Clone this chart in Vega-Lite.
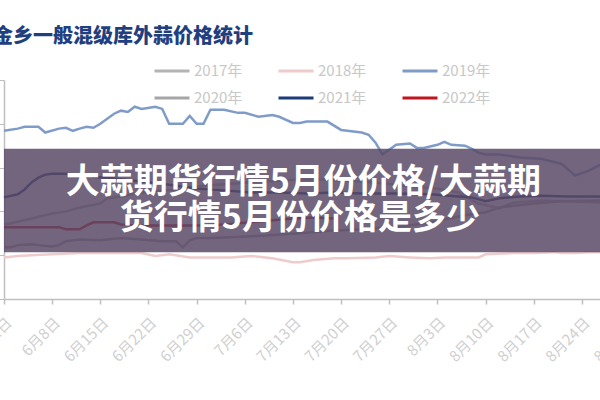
{
"$schema": "https://vega.github.io/schema/vega-lite/v6.json",
"width": 633, "height": 219,
"autosize": {"type": "none"},
"padding": {"left": 4, "top": 80, "right": 0, "bottom": 101},
"background": "white",
"title": {"text": "金乡一般混级库外蒜价格统计", "anchor": "start", "frame": "group", "dx": -11, "offset": 5, "fontSize": 20, "font": "Noto Sans CJK SC", "fontWeight": 900, "color": "#1f3f7f"},
"config": {"view": {"stroke": null}, "font": "Noto Sans CJK SC"},
"datasets": {
"prices": [
{"year":"2017年","date":"2022-06-01","price":1.70},{"year":"2017年","date":"2022-06-02","price":1.73},{"year":"2017年","date":"2022-06-05","price":1.84},{"year":"2017年","date":"2022-06-08","price":1.95},{"year":"2017年","date":"2022-06-10","price":2.00},{"year":"2017年","date":"2022-06-12","price":2.09},{"year":"2017年","date":"2022-06-15","price":2.18},{"year":"2017年","date":"2022-06-16","price":2.30},{"year":"2017年","date":"2022-06-18","price":2.34},{"year":"2017年","date":"2022-06-20","price":2.41},{"year":"2017年","date":"2022-06-22","price":2.45},{"year":"2017年","date":"2022-06-24","price":2.48},{"year":"2017年","date":"2022-06-26","price":2.50},{"year":"2017年","date":"2022-06-28","price":2.55},{"year":"2017年","date":"2022-06-29","price":2.57},{"year":"2017年","date":"2022-07-02","price":2.61},{"year":"2017年","date":"2022-07-05","price":2.64},{"year":"2017年","date":"2022-07-08","price":2.68},{"year":"2017年","date":"2022-07-11","price":2.70},{"year":"2017年","date":"2022-07-14","price":2.73},{"year":"2017年","date":"2022-07-17","price":2.73},{"year":"2017年","date":"2022-07-20","price":2.70},{"year":"2017年","date":"2022-07-23","price":2.68},{"year":"2017年","date":"2022-07-26","price":2.64},{"year":"2017年","date":"2022-07-29","price":2.59},{"year":"2017年","date":"2022-07-31","price":2.55},{"year":"2017年","date":"2022-08-03","price":2.52},{"year":"2017年","date":"2022-08-06","price":2.43},{"year":"2017年","date":"2022-08-09","price":2.18},{"year":"2017年","date":"2022-08-12","price":2.07},{"year":"2017年","date":"2022-08-14","price":2.20},{"year":"2017年","date":"2022-08-18","price":2.25},{"year":"2017年","date":"2022-08-22","price":2.23},{"year":"2017年","date":"2022-08-27","price":2.20},{"year":"2017年","date":"2022-08-29","price":2.20},
{"year":"2018年","date":"2022-06-01","price":0.95},{"year":"2018年","date":"2022-06-03","price":0.98},{"year":"2018年","date":"2022-06-05","price":1.00},{"year":"2018年","date":"2022-06-08","price":1.02},{"year":"2018年","date":"2022-06-12","price":1.05},{"year":"2018年","date":"2022-06-15","price":1.05},{"year":"2018年","date":"2022-06-21","price":1.05},{"year":"2018年","date":"2022-06-23","price":0.98},{"year":"2018年","date":"2022-06-25","price":1.02},{"year":"2018年","date":"2022-06-28","price":0.95},{"year":"2018年","date":"2022-07-01","price":0.95},{"year":"2018年","date":"2022-07-04","price":0.95},{"year":"2018年","date":"2022-07-07","price":0.98},{"year":"2018年","date":"2022-07-10","price":0.93},{"year":"2018年","date":"2022-07-13","price":0.84},{"year":"2018年","date":"2022-07-14","price":0.84},{"year":"2018年","date":"2022-07-16","price":0.89},{"year":"2018年","date":"2022-07-19","price":0.93},{"year":"2018年","date":"2022-07-21","price":0.93},{"year":"2018年","date":"2022-07-25","price":0.95},{"year":"2018年","date":"2022-07-27","price":0.98},{"year":"2018年","date":"2022-07-30","price":0.95},{"year":"2018年","date":"2022-08-02","price":0.93},{"year":"2018年","date":"2022-08-04","price":0.95},{"year":"2018年","date":"2022-08-07","price":0.95},{"year":"2018年","date":"2022-08-09","price":0.95},{"year":"2018年","date":"2022-08-10","price":1.02},{"year":"2018年","date":"2022-08-14","price":1.05},{"year":"2018年","date":"2022-08-17","price":1.05},{"year":"2018年","date":"2022-08-20","price":1.07},{"year":"2018年","date":"2022-08-21","price":1.05},{"year":"2018年","date":"2022-08-23","price":1.05},{"year":"2018年","date":"2022-08-25","price":1.07},{"year":"2018年","date":"2022-08-27","price":1.07},{"year":"2018年","date":"2022-08-29","price":1.07},
{"year":"2019年","date":"2022-06-01","price":3.84},{"year":"2019年","date":"2022-06-03","price":3.89},{"year":"2019年","date":"2022-06-04","price":3.93},{"year":"2019年","date":"2022-06-06","price":3.93},{"year":"2019年","date":"2022-06-07","price":3.80},{"year":"2019年","date":"2022-06-09","price":3.89},{"year":"2019年","date":"2022-06-10","price":3.91},{"year":"2019年","date":"2022-06-11","price":3.84},{"year":"2019年","date":"2022-06-12","price":3.89},{"year":"2019年","date":"2022-06-13","price":3.93},{"year":"2019年","date":"2022-06-14","price":3.91},{"year":"2019年","date":"2022-06-15","price":4.00},{"year":"2019年","date":"2022-06-17","price":4.23},{"year":"2019年","date":"2022-06-18","price":4.30},{"year":"2019年","date":"2022-06-19","price":4.27},{"year":"2019年","date":"2022-06-20","price":4.39},{"year":"2019年","date":"2022-06-21","price":4.34},{"year":"2019年","date":"2022-06-23","price":4.39},{"year":"2019年","date":"2022-06-24","price":4.34},{"year":"2019年","date":"2022-06-25","price":4.00},{"year":"2019年","date":"2022-06-27","price":4.00},{"year":"2019年","date":"2022-06-28","price":4.18},{"year":"2019年","date":"2022-06-29","price":4.00},{"year":"2019年","date":"2022-06-30","price":4.00},{"year":"2019年","date":"2022-07-01","price":4.32},{"year":"2019年","date":"2022-07-03","price":4.32},{"year":"2019年","date":"2022-07-05","price":4.25},{"year":"2019年","date":"2022-07-06","price":4.25},{"year":"2019年","date":"2022-07-08","price":4.16},{"year":"2019年","date":"2022-07-10","price":4.20},{"year":"2019年","date":"2022-07-11","price":4.16},{"year":"2019年","date":"2022-07-13","price":4.02},{"year":"2019年","date":"2022-07-14","price":4.02},{"year":"2019年","date":"2022-07-15","price":4.05},{"year":"2019年","date":"2022-07-18","price":4.05},{"year":"2019年","date":"2022-07-20","price":3.86},{"year":"2019年","date":"2022-07-23","price":3.80},{"year":"2019年","date":"2022-07-24","price":3.75},{"year":"2019年","date":"2022-07-25","price":3.57},{"year":"2019年","date":"2022-07-26","price":3.30},{"year":"2019年","date":"2022-07-28","price":3.52},{"year":"2019年","date":"2022-07-30","price":3.55},{"year":"2019年","date":"2022-07-31","price":3.45},{"year":"2019年","date":"2022-08-01","price":3.45},{"year":"2019年","date":"2022-08-03","price":3.52},{"year":"2019年","date":"2022-08-04","price":3.59},{"year":"2019年","date":"2022-08-05","price":3.52},{"year":"2019年","date":"2022-08-07","price":3.50},{"year":"2019年","date":"2022-08-08","price":3.43},{"year":"2019年","date":"2022-08-09","price":3.34},{"year":"2019年","date":"2022-08-10","price":3.30},{"year":"2019年","date":"2022-08-12","price":3.30},{"year":"2019年","date":"2022-08-15","price":3.23},{"year":"2019年","date":"2022-08-18","price":3.20},{"year":"2019年","date":"2022-08-21","price":3.09},{"year":"2019年","date":"2022-08-23","price":2.82},{"year":"2019年","date":"2022-08-25","price":2.93},{"year":"2019年","date":"2022-08-27","price":3.09},{"year":"2019年","date":"2022-08-29","price":3.15},
{"year":"2020年","date":"2022-06-01","price":1.18},{"year":"2020年","date":"2022-06-02","price":1.18},{"year":"2020年","date":"2022-06-03","price":1.23},{"year":"2020年","date":"2022-06-05","price":1.25},{"year":"2020年","date":"2022-06-06","price":1.23},{"year":"2020年","date":"2022-06-08","price":1.20},{"year":"2020年","date":"2022-06-09","price":1.23},{"year":"2020年","date":"2022-06-10","price":1.32},{"year":"2020年","date":"2022-06-12","price":1.36},{"year":"2020年","date":"2022-06-15","price":1.34},{"year":"2020年","date":"2022-06-18","price":1.39},{"year":"2020年","date":"2022-06-21","price":1.36},{"year":"2020年","date":"2022-06-24","price":1.32},{"year":"2020年","date":"2022-06-26","price":1.32},{"year":"2020年","date":"2022-06-27","price":1.18},{"year":"2020年","date":"2022-06-28","price":1.34},{"year":"2020年","date":"2022-06-29","price":1.39},{"year":"2020年","date":"2022-07-01","price":1.39},{"year":"2020年","date":"2022-07-04","price":1.41},{"year":"2020年","date":"2022-07-09","price":1.45},{"year":"2020年","date":"2022-07-14","price":1.50},{"year":"2020年","date":"2022-07-18","price":1.55},{"year":"2020年","date":"2022-07-23","price":1.59},{"year":"2020年","date":"2022-07-29","price":1.66},{"year":"2020年","date":"2022-08-02","price":1.75},{"year":"2020年","date":"2022-08-07","price":1.91},{"year":"2020年","date":"2022-08-10","price":1.98},{"year":"2020年","date":"2022-08-12","price":2.09},{"year":"2020年","date":"2022-08-17","price":2.18},{"year":"2020年","date":"2022-08-21","price":2.23},{"year":"2020年","date":"2022-08-27","price":2.25},{"year":"2020年","date":"2022-08-29","price":2.25},
{"year":"2021年","date":"2022-06-01","price":2.32},{"year":"2021年","date":"2022-06-03","price":2.39},{"year":"2021年","date":"2022-06-04","price":2.50},{"year":"2021年","date":"2022-06-05","price":2.66},{"year":"2021年","date":"2022-06-06","price":2.77},{"year":"2021年","date":"2022-06-07","price":2.84},{"year":"2021年","date":"2022-06-08","price":2.86},{"year":"2021年","date":"2022-06-10","price":2.86},{"year":"2021年","date":"2022-06-13","price":2.80},{"year":"2021年","date":"2022-06-17","price":2.75},{"year":"2021年","date":"2022-06-21","price":2.68},{"year":"2021年","date":"2022-06-25","price":2.61},{"year":"2021年","date":"2022-06-29","price":2.52},{"year":"2021年","date":"2022-07-03","price":2.48},{"year":"2021年","date":"2022-07-07","price":2.43},{"year":"2021年","date":"2022-07-11","price":2.43},{"year":"2021年","date":"2022-07-15","price":2.41},{"year":"2021年","date":"2022-07-19","price":2.43},{"year":"2021年","date":"2022-07-23","price":2.41},{"year":"2021年","date":"2022-07-28","price":2.41},{"year":"2021年","date":"2022-08-02","price":2.39},{"year":"2021年","date":"2022-08-06","price":2.34},{"year":"2021年","date":"2022-08-08","price":2.32},{"year":"2021年","date":"2022-08-10","price":2.23},{"year":"2021年","date":"2022-08-12","price":2.30},{"year":"2021年","date":"2022-08-15","price":2.34},{"year":"2021年","date":"2022-08-18","price":2.36},{"year":"2021年","date":"2022-08-22","price":2.34},{"year":"2021年","date":"2022-08-26","price":2.34},{"year":"2021年","date":"2022-08-29","price":2.34},
{"year":"2022年","date":"2022-06-01","price":1.64},{"year":"2022年","date":"2022-06-04","price":1.64},{"year":"2022年","date":"2022-06-07","price":1.64},{"year":"2022年","date":"2022-06-09","price":1.64},{"year":"2022年","date":"2022-06-10","price":1.59},{"year":"2022年","date":"2022-06-12","price":1.59},{"year":"2022年","date":"2022-06-13","price":1.68},{"year":"2022年","date":"2022-06-14","price":1.75},{"year":"2022年","date":"2022-06-17","price":1.75},{"year":"2022年","date":"2022-06-18","price":1.70},{"year":"2022年","date":"2022-06-20","price":1.68},{"year":"2022年","date":"2022-06-24","price":1.68},{"year":"2022年","date":"2022-06-29","price":1.68},{"year":"2022年","date":"2022-07-03","price":1.70},{"year":"2022年","date":"2022-07-08","price":1.77},{"year":"2022年","date":"2022-07-13","price":1.84},{"year":"2022年","date":"2022-07-16","price":1.86},{"year":"2022年","date":"2022-07-19","price":1.84}
],
"banner": [{"top": 3.43, "bottom": 1.07}],
"bannerText": [
{"label": "大蒜期货行情5月份价格/大蒜期", "date": "2022-07-14T12:00:00Z", "price": 2.65},
{"label": "货行情5月份价格是多少", "date": "2022-07-14T00:00:00Z", "price": 1.83}
]
},
"layer": [
{"data": {"name": "prices"},
 "mark": {"type": "line", "strokeWidth": 2.5},
 "encoding": {
  "x": {"field": "date", "type": "temporal",
   "scale": {"type": "utc", "domain": [{"year": 2022, "month": 6, "date": 1, "utc": true}, {"year": 2022, "month": 9, "date": 1, "utc": true}]},
   "axis": {"title": null, "format": "%-m月%-d日", "labelAngle": -45, "labelColor": "#d0d0d0", "labelFontSize": 15, "labelPadding": 11, "labelFlush": false, "labelOverlap": false, "tickColor": "#bfbfbf", "domainColor": "#bfbfbf", "domainWidth": 1.5, "tickWidth": 1.5, "tickSize": 5, "grid": false,
    "values": [{"year":2022,"month":6,"date":1,"utc":true},{"year":2022,"month":6,"date":8,"utc":true},{"year":2022,"month":6,"date":15,"utc":true},{"year":2022,"month":6,"date":22,"utc":true},{"year":2022,"month":6,"date":29,"utc":true},{"year":2022,"month":7,"date":6,"utc":true},{"year":2022,"month":7,"date":13,"utc":true},{"year":2022,"month":7,"date":20,"utc":true},{"year":2022,"month":7,"date":27,"utc":true},{"year":2022,"month":8,"date":3,"utc":true},{"year":2022,"month":8,"date":10,"utc":true},{"year":2022,"month":8,"date":17,"utc":true},{"year":2022,"month":8,"date":24,"utc":true},{"year":2022,"month":8,"date":31,"utc":true}]}},
  "y": {"field": "price", "type": "quantitative", "scale": {"domain": [0, 5]},
   "axis": {"title": null, "labels": false, "values": [0,0.5,1,1.5,2,2.5,3,3.5,4,4.5,5], "grid": false, "domainColor": "#bfbfbf", "domainWidth": 1.5, "tickColor": "#bfbfbf", "tickSize": 5}},
  "color": {"field": "year", "type": "nominal",
   "scale": {"domain": ["2017年","2018年","2019年","2020年","2021年","2022年"], "range": ["#b4b4b4","#efcccc","#7f9cc9","#a6a6a6","#1c3b7a","#c0141e"]},
   "legend": {"title": null, "orient": "none", "direction": "horizontal", "legendX": 149, "legendY": -28, "columns": 3, "symbolType": "stroke", "symbolSize": 1225, "symbolStrokeWidth": 3, "labelColor": "#c8c8c8", "labelFontSize": 15, "labelOffset": 3, "columnPadding": 29, "rowPadding": 0}}
 }},
{"data": {"name": "banner"},
 "mark": {"type": "rect", "color": "#5a4a66", "opacity": 0.85},
 "encoding": {"y": {"field": "top", "type": "quantitative"}, "y2": {"field": "bottom"}}},
{"data": {"name": "bannerText"},
 "mark": {"type": "text", "color": "white", "fontSize": 34, "fontWeight": "bold", "font": "Noto Sans CJK SC", "baseline": "middle", "align": "center"},
 "encoding": {"x": {"field": "date", "type": "temporal"}, "y": {"field": "price", "type": "quantitative"}, "text": {"field": "label"}}}
]
}
